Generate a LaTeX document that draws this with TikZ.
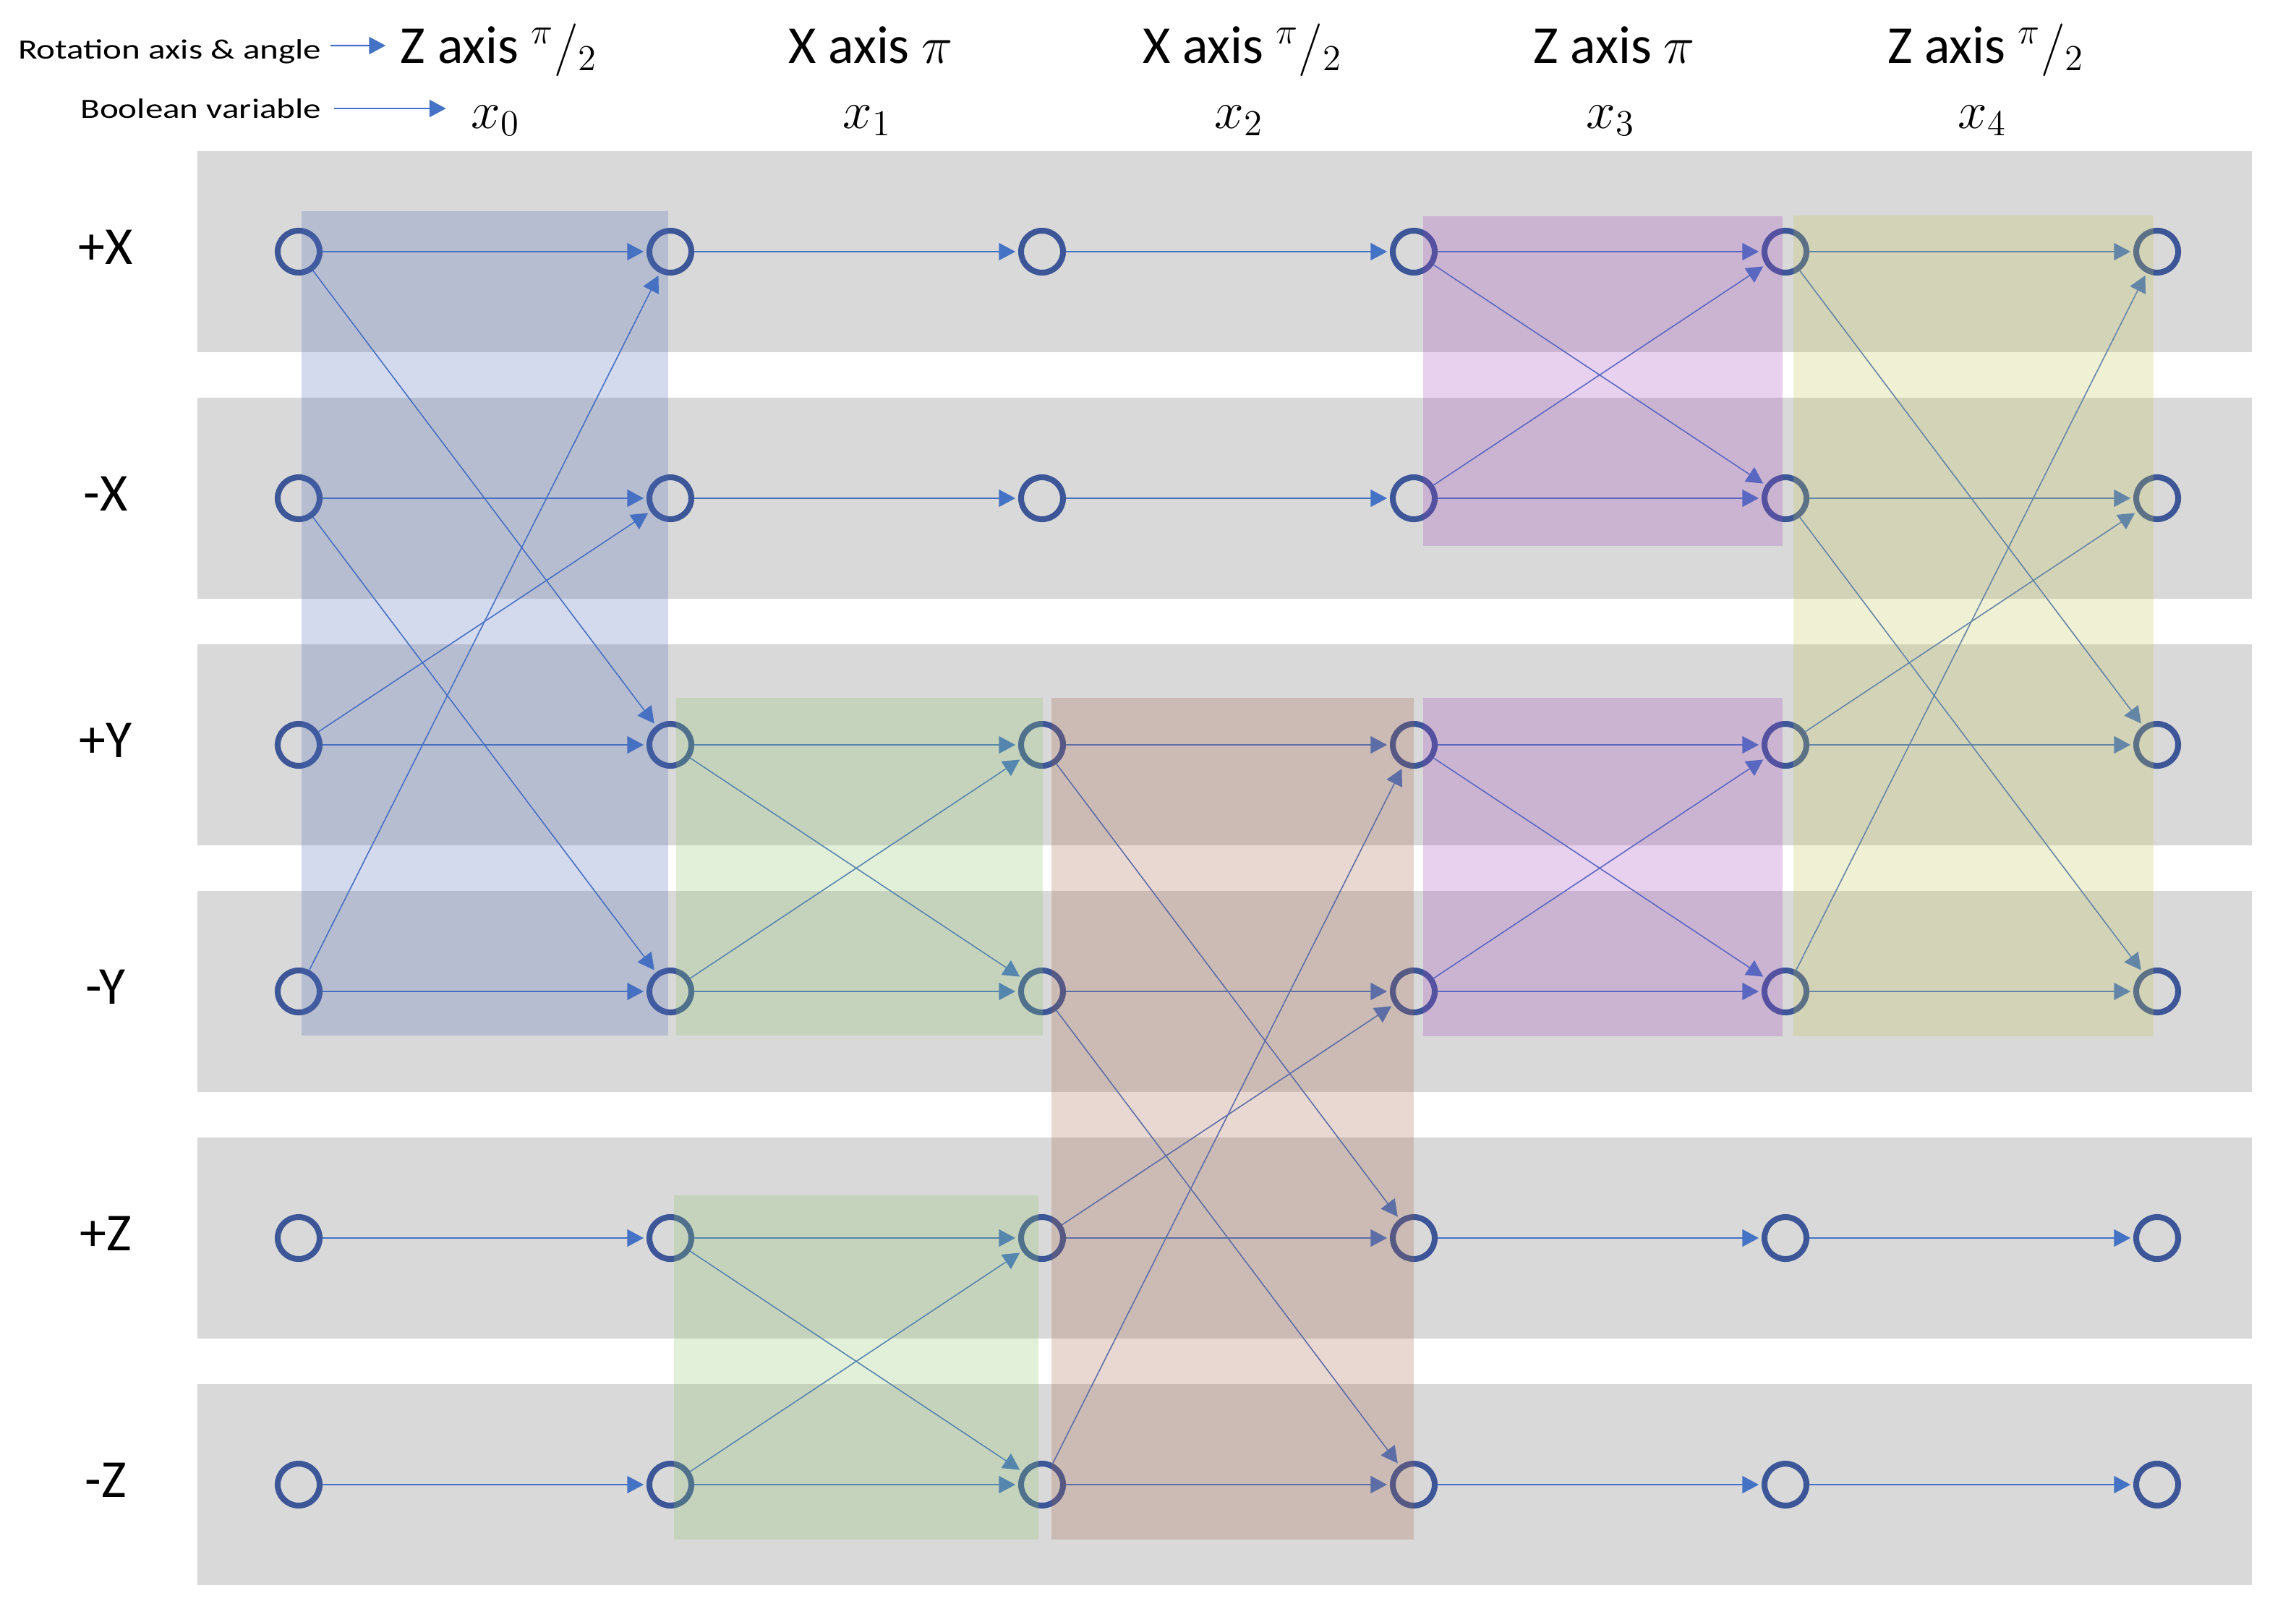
\documentclass[tikz,border=0pt]{standalone}
\usepackage{fontspec}
\setmainfont{Carlito}
\newfontfamily\widefont[FakeStretch=1.27]{Carlito}
\usetikzlibrary{arrows.meta}

\definecolor{bandgray}{RGB}{217,217,217}
\definecolor{ringblue}{RGB}{60,86,152}
\definecolor{flowblue}{RGB}{68,114,196}
\definecolor{boxblue}{RGB}{79,107,187}
\definecolor{boxgreen}{RGB}{139,195,107}
\definecolor{boxbrown}{RGB}{167,99,75}
\definecolor{boxpurple}{RGB}{159,71,187}
\definecolor{boxyellow}{RGB}{195,195,83}

\begin{document}
\begin{tikzpicture}[
    state/.style = {circle, draw = ringblue, line width = 2.3pt, minimum size = 0.58cm, inner sep = 0pt},
    flow/.style = {flowblue, line width = 0.6pt, shorten > = 1.1pt, -{Triangle[length = 6.5pt, width = 6.8pt]}},
    cross/.style = {flow, line width = 0.45pt},
    lblarrow/.style = {flowblue, line width = 0.6pt, -{Triangle[length = 6.5pt, width = 6.8pt]}},
    band/.style = {fill = bandgray},
    group/.style = {fill = #1, fill opacity = 0.25},
    big/.style = {font = \fontsize{21}{25}\selectfont, inner sep = 0pt},
    small/.style = {font = \widefont\fontsize{11}{13}\selectfont, inner sep = 0pt}
]
    \useasboundingbox (0, 0) rectangle (31.75, -22.42);

    % gray bands, one per row
    \foreach \r in {1,...,6}
        \fill [band] (2.73, {-3.48 - 3.41*(\r-1) + 1.39}) rectangle (31.14, {-3.48 - 3.41*(\r-1) - 1.39});

    % row labels
    \foreach \r/\lbl in {1/+X, 2/-X, 3/+Y, 4/-Y, 5/+Z, 6/-Z}
        \node [big, anchor = base] (row\r) at (1.46, {-3.48 - 3.41*(\r-1) - 0.17}) {\lbl};

    % headers
    \node [small, anchor = base east] (rotlbl) at (4.45, -0.81) {Rotation axis \& angle};
    \node [small, anchor = base east] (boollbl) at (4.45, -1.63) {Boolean variable};
    \foreach \c/\txt in {0/{Z axis ${}^{\pi}/{}_{2}$}, 1/{X axis $\pi$}, 2/{X axis ${}^{\pi}/{}_{2}$}, 3/{Z axis $\pi$}, 4/{Z axis ${}^{\pi}/{}_{2}$}}
    {
        \node [big, anchor = base] (hdr\c) at ({6.90 + 5.14*\c}, -0.87) {\txt};
        \node [big, anchor = base] (var\c) at ({6.85 + 5.14*\c}, -1.77) {$x_{\c}$};
    }
    \draw [lblarrow] ([shift = {(0.12, 0.18)}]rotlbl.base east) -- ([shift = {(-0.20, 0.24)}]hdr0.base west);
    \draw [lblarrow] ([shift = {(0.17, 0.13)}]boollbl.base east) -- ([shift = {(-0.34, 0.27)}]var0.base west);

    % states
    \foreach \c in {0,...,5}
        \foreach \r in {1,...,6}
            \node [state] (n\c-\r) at ({4.13 + 5.14*\c}, {-3.48 - 3.41*(\r-1)}) {};

    % straight transitions
    \foreach \c [evaluate = \c as \d using int(\c+1)] in {0,...,4}
        \foreach \r in {1,...,6}
            \draw [flow] (n\c-\r) -- (n\d-\r);

    % crossing transitions
    \foreach \c/\a/\b [evaluate = \c as \d using int(\c+1)] in {0/1/3, 0/2/4, 0/3/2, 0/4/1,
            1/3/4, 1/4/3, 1/5/6, 1/6/5, 2/3/5, 2/4/6, 2/5/4, 2/6/3,
            3/1/2, 3/2/1, 3/3/4, 3/4/3, 4/1/3, 4/2/4, 4/3/2, 4/4/1}
        \draw [cross] (n\c-\a) -- (n\d-\b);

    % rotation groups
    \fill [group = boxblue] (4.17, -2.92) rectangle (9.24, -14.32);
    \fill [group = boxgreen] (9.35, -9.65) rectangle (14.42, -14.32);
    \fill [group = boxgreen] (9.32, -16.53) rectangle (14.36, -21.29);
    \fill [group = boxbrown] (14.54, -9.65) rectangle (19.55, -21.29);
    \fill [group = boxpurple] (19.68, -2.99) rectangle (24.65, -7.55);
    \fill [group = boxpurple] (19.68, -9.65) rectangle (24.65, -14.33);
    \fill [group = boxyellow] (24.80, -2.98) rectangle (29.78, -14.33);
\end{tikzpicture}
\end{document}
